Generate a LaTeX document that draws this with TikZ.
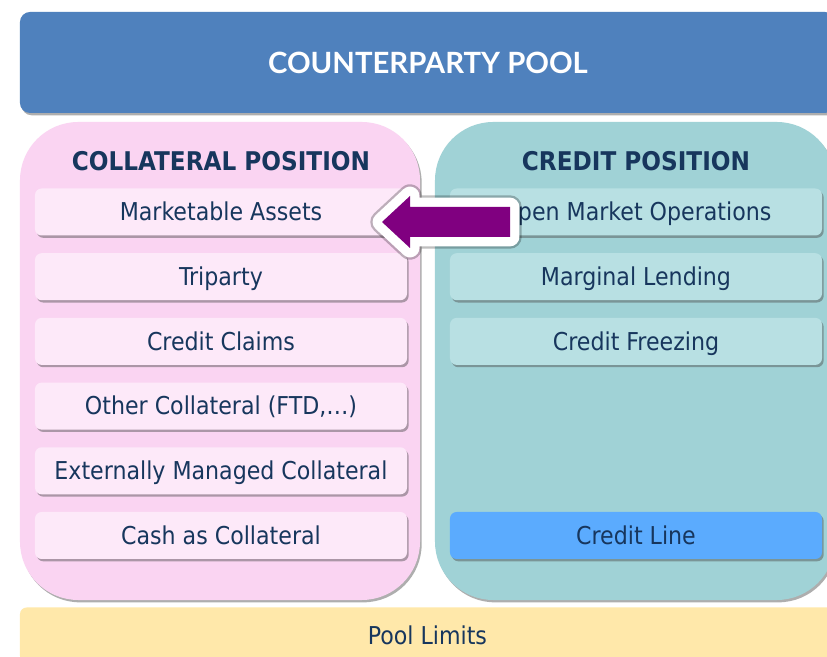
\documentclass[tikz,border=0pt]{standalone}
\usepackage{fontspec}
\setmainfont{DejaVu Sans Condensed}
\newfontfamily\titlefont{Lato}
\usetikzlibrary{shadows,positioning}
\definecolor{poolblue}{HTML}{4F81BD}
\definecolor{collpink}{HTML}{FAD4F2}
\definecolor{itempink}{HTML}{FDE9F9}
\definecolor{credteal}{HTML}{A0D2D6}
\definecolor{itemteal}{HTML}{B8E0E3}
\definecolor{lineblue}{HTML}{5BABFE}
\definecolor{limityellow}{HTML}{FFE8AA}
\definecolor{navytext}{HTML}{17365D}
\definecolor{arrowpurple}{HTML}{800080}

\begin{document}
\begin{tikzpicture}[x = .03cm, y = -.03cm,
  shade/.style = {drop shadow = {shadow xshift = .05cm, shadow yshift = -.07cm, opacity = .45, fill = black!70}},
  panel/.style = {rounded corners = 1.75cm, minimum width = 12cm, minimum height = 14.34cm, shade},
  item/.style = {rounded corners = .2cm, minimum width = 11.16cm, minimum height = 1.41cm, text = navytext,
    text height = 20pt, text depth = 5pt, font = \fontsize{21}{25}\selectfont, shade},
  head/.style = {text = navytext, font = \fontsize{22}{26}\selectfont\bfseries},
  bigarrow/.style = {fill = arrowpurple, line join = round,
    preaction = {draw = black, opacity = .25, line width = 20pt, line join = round},
    preaction = {draw = white, line width = 16pt, line join = round}}]
\clip (0,0) rectangle (827,657);
\fill[white] (0,0) rectangle (827,657);

% pool on top
\node[fill = poolblue, rounded corners = .3cm, minimum width = 24.45cm, minimum height = 3.03cm, shade] (pool) at (427.5,62.5) {};
\node[text = white, font = \titlefont\fontsize{25}{30}\selectfont\bfseries] (pooltitle) at (428,63) {COUNTERPARTY POOL};

% the two positions
\node[panel, fill = collpink] (coll) at (220,361) {};
\node[panel, fill = credteal] (cred) at (635,361) {};
\node[head] (collhead) at (221,161) {COLLATERAL POSITION};
\node[head] (credhead) at (636,161) {CREDIT POSITION};

\foreach \name/\txt [count = \i from 0] in {mkt/Marketable Assets, tri/Triparty, claims/Credit Claims,
    other/{Other Collateral (FTD,\dots)}, ext/Externally Managed Collateral, cash/Cash as Collateral}
  \node[item, fill = itempink] (\name) at (221,212 + 64.7*\i) {\txt};

\node[item, fill = itemteal] (omo) at (636,212) {Open Market Operations};
\node[item, fill = itemteal] (lend) at (636,276.7) {Marginal Lending};
\node[item, fill = itemteal] (freeze) at (636,341.4) {Credit Freezing};
\node[item, fill = lineblue] (line) at (636,535.5) {Credit Line};

% limits at the bottom
\node[fill = limityellow, rounded corners = .2cm, minimum width = 24.45cm, minimum height = 1.65cm, text = navytext,
  font = \fontsize{21}{25}\selectfont] (limits) at (427.5,635) {Pool Limits};

% arrow from credit to collateral
\path[bigarrow] (382,222) -- (410,196) -- (410,207) -- (510,207) -- (510,237) -- (410,237) -- (410,248) -- cycle;
\end{tikzpicture}
\end{document}
